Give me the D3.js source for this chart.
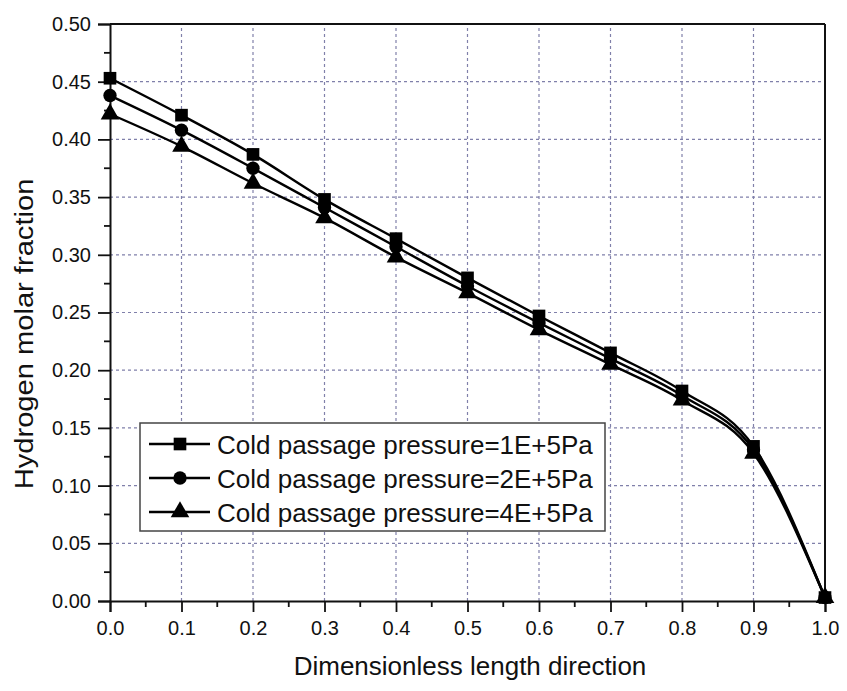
<!DOCTYPE html>
<html><head><meta charset="utf-8">
<script src="https://cdn.jsdelivr.net/npm/d3@7"></script>
<style>body{margin:0;background:#fff}svg{display:block}text{font-family:"Liberation Sans",Arial,sans-serif;fill:#111}</style>
</head><body>
<script>
const xValues = [0.0,0.1,0.2,0.3,0.4,0.5,0.6,0.7,0.8,0.9,1.0];
const seriesNames = ["Cold passage pressure=1E+5Pa","Cold passage pressure=2E+5Pa","Cold passage pressure=4E+5Pa"];
const series1 = [0.453,0.421,0.387,0.348,0.314,0.280,0.247,0.215,0.182,0.134,0.003];
const series2 = [0.438,0.408,0.375,0.341,0.307,0.273,0.241,0.210,0.178,0.131,0.003];
const series3 = [0.422,0.394,0.362,0.332,0.298,0.267,0.235,0.205,0.174,0.128,0.003];
const xTicks = [0,0.1,0.2,0.3,0.4,0.5,0.6,0.7,0.8,0.9,1.0];
const yTicks = [0,0.05,0.10,0.15,0.20,0.25,0.30,0.35,0.40,0.45,0.50];
const xLabel = "Dimensionless length direction";
const yLabel = "Hydrogen molar fraction";
const markers = [d3.symbolSquare, d3.symbolCircle, d3.symbolTriangle];

const W=847,H=691;
const m={l:110,r:22,t:24,b:90};
const svg=d3.select("body").append("svg").attr("width",W).attr("height",H);
const x=d3.scaleLinear().domain([0,1]).range([m.l,W-m.r]);
const y=d3.scaleLinear().domain([0,0.5]).range([H-m.b,m.t]);
const data=[series1,series2,series3];

// grid
const g=svg.append("g");
g.selectAll(".gx").data(xTicks.slice(1,-1)).enter().append("line")
 .attr("x1",d=>x(d)).attr("x2",d=>x(d)).attr("y1",y(0)).attr("y2",y(0.5))
 .attr("stroke","#8080aa").attr("stroke-width",1.2).attr("stroke-dasharray","3,3");
g.selectAll(".gy").data(yTicks.slice(1,-1)).enter().append("line")
 .attr("y1",d=>y(d)).attr("y2",d=>y(d)).attr("x1",x(0)).attr("x2",x(1))
 .attr("stroke","#8080aa").attr("stroke-width",1.2).attr("stroke-dasharray","3,3");

// frame top/right
svg.append("line").attr("x1",x(0)).attr("x2",x(1)).attr("y1",y(0.5)).attr("y2",y(0.5)).attr("stroke","#111").attr("stroke-width",2);
svg.append("line").attr("x1",x(1)).attr("x2",x(1)).attr("y1",y(0)).attr("y2",y(0.5)).attr("stroke","#111").attr("stroke-width",2);

// axes
const xAxis=d3.axisBottom(x).tickValues(xTicks).tickFormat(d3.format(".1f")).tickSize(11).tickPadding(9);
const yAxis=d3.axisLeft(y).tickValues(yTicks).tickFormat(d3.format(".2f")).tickSize(12).tickPadding(7);
const minorX=d3.range(0.05,1,0.1);
const minorY=d3.range(0.025,0.5,0.05);
const gx=svg.append("g").attr("transform",`translate(0,${y(0)})`).call(xAxis);
const gy=svg.append("g").attr("transform",`translate(${x(0)},0)`).call(yAxis);
[gx,gy].forEach(a=>{a.select(".domain").attr("stroke","#111").attr("stroke-width",2);
 a.selectAll(".tick line").attr("stroke","#111").attr("stroke-width",1.8);
 a.selectAll("text").style("font-size","20px").attr("fill","#222");});
svg.append("g").selectAll("line").data(minorX).enter().append("line")
 .attr("x1",d=>x(d)).attr("x2",d=>x(d)).attr("y1",y(0)).attr("y2",y(0)+6).attr("stroke","#111").attr("stroke-width",1.8);
svg.append("g").selectAll("line").data(minorY).enter().append("line")
 .attr("y1",d=>y(d)).attr("y2",d=>y(d)).attr("x1",x(0)).attr("x2",x(0)-6).attr("stroke","#111").attr("stroke-width",1.8);

// labels
svg.append("text").attr("x",470).attr("y",675).attr("text-anchor","middle").style("font-size","26px").text(xLabel);
svg.append("text").attr("transform",`translate(33,334) rotate(-90) scale(1.12,1)`).attr("text-anchor","middle").style("font-size","26px").text(yLabel);

// lines
const line=d3.line().x((d,i)=>x(xValues[i])).y(d=>y(d)).curve(d3.curveMonotoneX);
data.forEach((s,k)=>{
 svg.append("path").datum(s).attr("d",line).attr("fill","none").attr("stroke","#000").attr("stroke-width",2.4);
});
const sizes=[160,140,150];
data.forEach((s,k)=>{
 svg.append("g").selectAll("path").data(s).enter().append("path")
  .attr("transform",(d,i)=>`translate(${x(xValues[i])},${y(d)})`)
  .attr("d",d3.symbol().type(markers[k]).size(sizes[k])).attr("fill","#000");
});

// legend
const lg=svg.append("g");
lg.append("rect").attr("x",140).attr("y",423).attr("width",465).attr("height",108).attr("fill","#fff").attr("stroke","#444").attr("stroke-width",1.5);
seriesNames.forEach((n,k)=>{
 const yy=444+k*34;
 lg.append("line").attr("x1",149).attr("x2",210).attr("y1",yy).attr("y2",yy).attr("stroke","#000").attr("stroke-width",2.4);
 lg.append("path").attr("transform",`translate(180,${yy})`).attr("d",d3.symbol().type(markers[k]).size(sizes[k])).attr("fill","#000");
 lg.append("text").attr("x",217).attr("y",yy+10).style("font-size","26px").text(n);
});
</script>
</body></html>
